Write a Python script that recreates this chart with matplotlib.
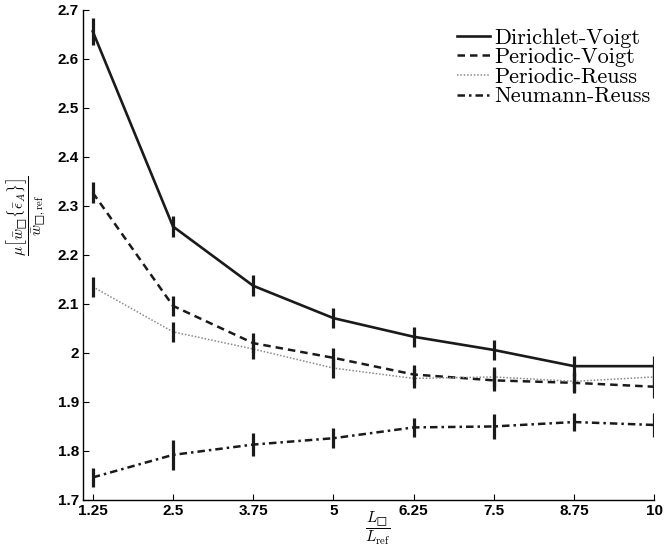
import matplotlib
matplotlib.use("Agg")
import matplotlib.pyplot as plt

plt.rcParams["mathtext.fontset"] = "cm"

# data
x = [1.25, 2.5, 3.75, 5, 6.25, 7.5, 8.75, 10]
xticklabels = ["1.25", "2.5", "3.75", "5", "6.25", "7.5", "8.75", "10"]

dirichlet_voigt = [2.656, 2.258, 2.137, 2.071, 2.033, 2.006, 1.973, 1.973]
dirichlet_voigt_err = [0.027, 0.022, 0.021, 0.020, 0.020, 0.020, 0.021, 0.021]
periodic_voigt = [2.327, 2.096, 2.020, 1.990, 1.956, 1.944, 1.939, 1.931]
periodic_voigt_err = [0.022, 0.020, 0.021, 0.020, 0.020, 0.021, 0.020, 0.022]
periodic_reuss = [2.135, 2.043, 2.008, 1.969, 1.948, 1.951, 1.942, 1.951]
periodic_reuss_err = [0.020, 0.020, 0.020, 0.020, 0.020, 0.020, 0.020, 0.020]
neumann_reuss = [1.746, 1.792, 1.813, 1.826, 1.848, 1.850, 1.859, 1.853]
neumann_reuss_err = [0.019, 0.031, 0.023, 0.020, 0.020, 0.026, 0.019, 0.024]

series = [
    ("Dirichlet-Voigt", dirichlet_voigt, dirichlet_voigt_err, "-", "#1a1a1a", 1.9),
    ("Periodic-Voigt", periodic_voigt, periodic_voigt_err, (0, (3, 2)), "#1a1a1a", 1.8),
    ("Periodic-Reuss", periodic_reuss, periodic_reuss_err, (0, (1, 1.2)), "#8a8a8a", 1.1),
    ("Neumann-Reuss", neumann_reuss, neumann_reuss_err, (0, (3, 1.6, 1, 1.6)), "#1a1a1a", 1.8),
]

fig = plt.figure(figsize=(6.65, 5.47), dpi=100)
ax = fig.add_axes([0.125, 0.086, 0.859, 0.896])

handles = []
for name, y, err, ls, col, lw in series:
    ax.errorbar(x, y, yerr=err, fmt="none", ecolor="#1a1a1a", elinewidth=2.3,
                capsize=0, zorder=3)
    h, = ax.plot(x, y, linestyle=ls, color=col, linewidth=lw, label=name, zorder=2)
    handles.append(h)

ax.set_xlim(1.1, 10)
ax.set_ylim(1.7, 2.7)
ax.set_xticks(x)
ax.set_xticklabels(xticklabels)
ax.set_yticks([1.7, 1.8, 1.9, 2.0, 2.1, 2.2, 2.3, 2.4, 2.5, 2.6, 2.7])
ax.set_yticklabels(["1.7", "1.8", "1.9", "2", "2.1", "2.2", "2.3", "2.4", "2.5", "2.6", "2.7"])
for lab in ax.get_xticklabels() + ax.get_yticklabels():
    lab.set_fontfamily("Liberation Sans")
    lab.set_fontweight("bold")
    lab.set_fontsize(11)
ax.tick_params(direction="in", length=4, width=0.8, pad=3)
ax.spines["top"].set_visible(False)
ax.spines["right"].set_visible(False)
for s in ("left", "bottom"):
    ax.spines[s].set_linewidth(1.0)

ax.set_xlabel(r"$\dfrac{L_{□}}{L_{\mathrm{ref}}}$", fontsize=11)
ax.xaxis.set_label_coords(0.515, -0.02)
ax.set_ylabel(r"$\dfrac{\mu\left[\bar{w}_{□}\{\bar{\epsilon}_{A}\}\right]}{\bar{w}_{□,\mathrm{ref}}}$",
              fontsize=11)
ax.yaxis.set_label_coords(-0.062, 0.58)

leg = ax.legend(handles=handles, loc="upper right", bbox_to_anchor=(1.017, 0.99),
                frameon=False, prop={"family": "cmr10", "size": 16},
                handlelength=1.5, handletextpad=0.2, labelspacing=0.0,
                borderaxespad=0.2)

fig.savefig("out.png", dpi=100)
